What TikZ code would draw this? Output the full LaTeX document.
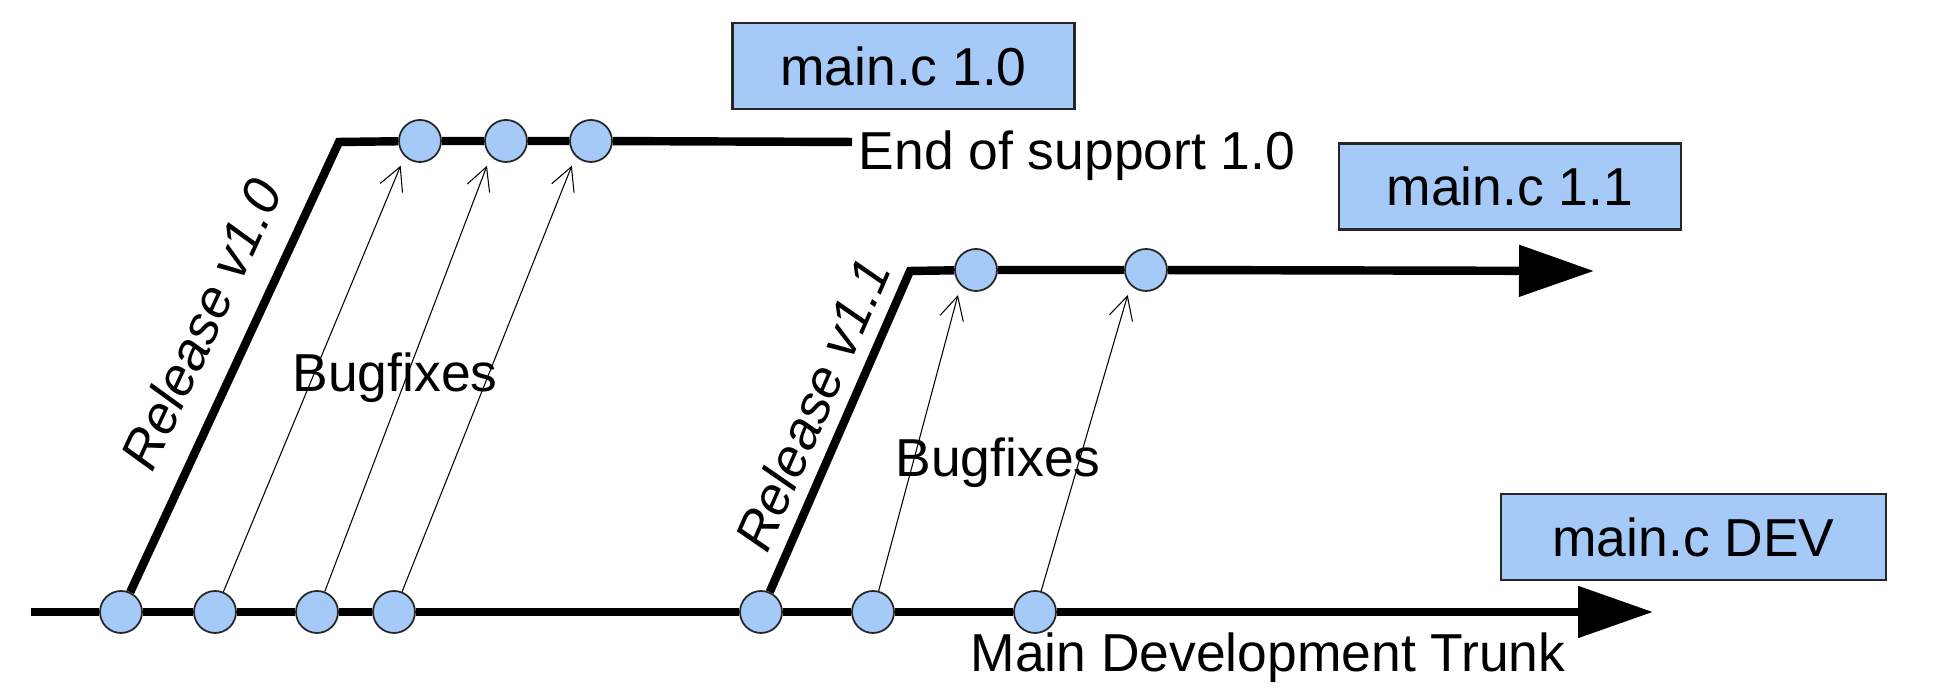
\documentclass[tikz,border=0pt]{standalone}
\usepackage{fontspec}
\setmainfont{Liberation Sans}
\usepackage{tikz}
\usetikzlibrary{arrows.meta}
\definecolor{commitblue}{RGB}{166,202,247}
\newcommand{\labelfont}{\fontsize{15.2}{18}\selectfont}

\begin{document}
\begin{tikzpicture}[
	every node/.style={font=\labelfont, inner sep=0pt},
	commit/.style={shape=circle, draw=black!85, fill=commitblue, line width=0.5pt, minimum size=0.42cm},
	version/.style={draw=black!85, fill=commitblue, line width=0.6pt, minimum width=3.42cm, minimum height=0.86cm},
	branch/.style={line width=2.4pt},
	bigtip/.style={-{Triangle[length=7.5mm, width=5mm]}},
	fix/.style={line width=0.3pt, -{Straight Barb[length=2.3mm, width=2.4mm]}, shorten >=1mm},
	release/.style={sloped, font=\labelfont\itshape}
	]
	
	\useasboundingbox (0, 0) rectangle (19.56, 6.88);
	
	\coordinate (start) at (0.31, 0.76);
	\node[commit] (t1) at (1.21, 0.76)  {};
	\node[commit] (t2) at (2.15, 0.76)  {};
	\node[commit] (t3) at (3.17, 0.76)  {};
	\node[commit] (t4) at (3.94, 0.76)  {};
	\node[commit] (t5) at (7.61, 0.76)  {};
	\node[commit] (t6) at (8.73, 0.76)  {};
	\node[commit] (t7) at (10.35, 0.76) {};
	\coordinate (tip) at (16.53, 0.76);
	
	\coordinate (c10) at (3.39, 5.46);
	\node[commit] (b1) at (4.20, 5.47) {};
	\node[commit] (b2) at (5.06, 5.47) {};
	\node[commit] (b3) at (5.91, 5.47) {};
	\coordinate (e10) at (8.52, 5.46);
	
	\coordinate (c11) at (9.10, 4.17);
	\node[commit] (d1) at (9.76, 4.18)  {};
	\node[commit] (d2) at (11.46, 4.18) {};
	\coordinate (tip11) at (15.94, 4.17);
	
	\node[version] (v10) at (9.035, 6.22) {main.c 1.0};
	\node[version] (v11) at (15.10, 5.015) {main.c 1.1};
	\node[version, minimum width=3.85cm] (vdev) at (16.935, 1.51) {main.c DEV};
	
	\node[anchor=base west] (eos) at (8.58, 5.18) {End of support 1.0};
	\node[anchor=base] (fix10) at (3.95, 2.96) {Bugfixes};
	\node[anchor=base] (fix11) at (9.98, 2.11) {Bugfixes};
	\node[anchor=base] (trunk) at (12.68, 0.16) {Main Development Trunk};
	
	\draw[branch, bigtip] (start) -- (t1) -- (t2) -- (t3) -- (t4) -- (t5) -- (t6) -- (t7) -- (tip);
	\draw[branch] (t1) -- node[release, pos=0.55, above=0.245cm] {Release v1.0} (c10) -- (b1) -- (b2) -- (b3) -- (e10);
	\draw[branch, bigtip] (t5) -- node[release, pos=0.54, above=0.125cm] {Release v1.1} (c11) -- (d1) -- (d2) -- (tip11);
	
	\draw[fix] (t2) -- (b1.south west);
	\draw[fix] (t3) -- (b2.south west);
	\draw[fix] (t4) -- (b3.south west);
	\draw[fix] (t6) -- (d1.south west);
	\draw[fix] (t7) -- (d2.south west);
	
\end{tikzpicture}
\end{document}
